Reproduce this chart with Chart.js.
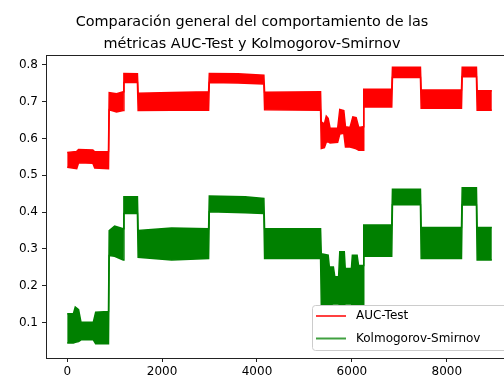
<!DOCTYPE html>
<html>
<head>
<meta charset="utf-8">
<script src="https://cdn.jsdelivr.net/npm/chart.js@4.4.0/dist/chart.umd.min.js"></script>
<style>
  html, body { margin: 0; padding: 0; background: #fff; }
  #wrap { width: 504px; height: 378px; }
</style>
</head>
<body>
<div id="wrap"><canvas id="myChart" width="504" height="378"></canvas></div>
<script>
// iteration (x) and upper / lower edge of each noisy band
var aucX  = [0, 200, 240, 540, 580, 870, 885, 1040, 1180, 1195, 1480, 1495, 2200, 2980, 2995, 3600, 4145, 4160, 5340,
             5355, 5420, 5460, 5500, 5540, 5700, 5745, 5830, 5865, 5960, 6020, 6090, 6145, 6235,
             6250, 6840, 6855, 7445, 7460, 8310, 8325, 8625, 8640, 8950];
var aucHi = [0.562, 0.565, 0.570, 0.569, 0.564, 0.565, 0.725, 0.722, 0.727, 0.777, 0.776, 0.723, 0.725, 0.727, 0.777, 0.776, 0.772, 0.726, 0.727,
             0.645, 0.640, 0.661, 0.655, 0.628, 0.628, 0.679, 0.676, 0.632, 0.630, 0.659, 0.657, 0.630, 0.632,
             0.734, 0.734, 0.794, 0.794, 0.732, 0.732, 0.794, 0.794, 0.730, 0.730];
var aucLo = [0.522, 0.518, 0.534, 0.533, 0.520, 0.518, 0.678, 0.672, 0.676, 0.752, 0.752, 0.676, 0.677, 0.677, 0.752, 0.751, 0.748, 0.678, 0.677,
             0.573, 0.575, 0.590, 0.591, 0.588, 0.590, 0.612, 0.614, 0.577, 0.577, 0.575, 0.572, 0.568, 0.568,
             0.686, 0.686, 0.766, 0.766, 0.682, 0.682, 0.768, 0.768, 0.677, 0.677];

var ksX  = [0, 130, 170, 240, 290, 550, 600, 870, 885, 1000, 1180, 1195, 1480, 1495, 2200, 2980, 2995, 3750, 4145, 4160, 5340,
            5355, 5500, 5525, 5610, 5640, 5720, 5745, 5840, 5860, 5990, 6010, 6110, 6140, 6235,
            6250, 6840, 6855, 7445, 7460, 8310, 8325, 8625, 8640, 8950];
var ksHi = [0.124, 0.124, 0.142, 0.135, 0.101, 0.101, 0.128, 0.130, 0.350, 0.362, 0.355, 0.442, 0.442, 0.350, 0.357, 0.355, 0.444, 0.442, 0.437, 0.355, 0.355,
            0.287, 0.283, 0.251, 0.251, 0.224, 0.224, 0.292, 0.292, 0.247, 0.247, 0.283, 0.283, 0.255, 0.255,
            0.365, 0.365, 0.462, 0.462, 0.358, 0.358, 0.466, 0.466, 0.358, 0.358];
var ksLo = [0.044, 0.044, 0.046, 0.048, 0.053, 0.053, 0.042, 0.042, 0.282, 0.280, 0.270, 0.396, 0.396, 0.277, 0.270, 0.274, 0.401, 0.398, 0.396, 0.274, 0.274,
            0.148, 0.148, 0.148, 0.150, 0.150, 0.150, 0.148, 0.148, 0.150, 0.150, 0.148, 0.148, 0.148, 0.148,
            0.280, 0.280, 0.420, 0.420, 0.274, 0.274, 0.419, 0.419, 0.270, 0.270];

var xTicks = [0, 2000, 4000, 6000, 8000];
var yTicks = [0.1, 0.2, 0.3, 0.4, 0.5, 0.6, 0.7, 0.8];

var titleLines = ['Comparación general del comportamiento de las', 'métricas AUC-Test y Kolmogorov-Smirnov'];
var seriesNames = ['AUC-Test', 'Kolmogorov-Smirnov'];
var seriesColors = ['#ff0000', '#008000'];
var legendColors = ['rgba(255,0,0,0.75)', 'rgba(0,128,0,0.75)'];

function pts(xs, ys) {
  var out = [];
  for (var i in xs) {
    out.push({x: xs[i], y: ys[i]});
  }
  return out;
}

function band(name, color, xs, hi, lo) {
  return [
    { label: name, data: pts(xs, hi), borderColor: color, backgroundColor: color,
      borderWidth: 1.5, pointRadius: 0, tension: 0, fill: '+1' },
    { label: '', data: pts(xs, lo), borderColor: color, backgroundColor: color,
      borderWidth: 1.5, pointRadius: 0, tension: 0, fill: false }
  ];
}

var FONT = 'DejaVu Sans';

// top spine + legend box in the lower right
var framePlugin = {
  id: 'frame',
  afterDraw: function(chart) {
    var ctx = chart.ctx;
    var a = chart.chartArea;
    ctx.save();
    ctx.strokeStyle = '#222';
    ctx.lineWidth = 1;
    ctx.beginPath();
    ctx.moveTo(a.left, a.top + 0.5);
    ctx.lineTo(a.right, a.top + 0.5);
    ctx.stroke();

    var bx = 312.5, by = 305.5, bw = 260, bh = 45;
    ctx.fillStyle = 'rgba(255,255,255,0.8)';
    ctx.strokeStyle = '#cccccc';
    ctx.beginPath();
    ctx.roundRect(bx, by, bw, bh, 3);
    ctx.fill();
    ctx.stroke();

    ctx.font = '12px "' + FONT + '"';
    ctx.textBaseline = 'middle';
    for (var i = 0; i < seriesNames.length; i++) {
      var ly = 316 + i * 22.5;
      ctx.strokeStyle = legendColors[i];
      ctx.lineWidth = 2;
      ctx.beginPath();
      ctx.moveTo(316, ly);
      ctx.lineTo(346, ly);
      ctx.stroke();
      ctx.fillStyle = '#000';
      ctx.fillText(seriesNames[i], 356, ly);
    }
    ctx.restore();
  }
};

var datasets = band(seriesNames[0], seriesColors[0], aucX, aucHi, aucLo)
  .concat(band(seriesNames[1], seriesColors[1], ksX, ksHi, ksLo));

var ctx = document.getElementById('myChart');

var lineGraph = new Chart(ctx, {
  type: 'line',
  data: { datasets: datasets },
  plugins: [framePlugin],
  options: {
    responsive: false,
    animation: false,
    layout: { padding: { left: 0, right: 0, top: 0, bottom: 0 } },
    plugins: {
      legend: { display: false },
      tooltip: { enabled: false },
      title: {
        display: true,
        text: titleLines,
        color: '#000',
        font: { family: FONT, size: 14.4, weight: 'normal', lineHeight: '22px' },
        padding: { top: 11, bottom: 0 }
      }
    },
    scales: {
      x: {
        type: 'linear',
        min: -447,
        max: 9206,
        afterFit: function(scale) { scale.height = 20; },
        afterBuildTicks: function(scale) {
          scale.ticks = xTicks.map(function(v) { return {value: v}; });
        },
        ticks: {
          color: '#000',
          font: { family: FONT, size: 12 },
          padding: 3,
          maxRotation: 0,
          autoSkip: false,
          callback: function(v) { return String(v); }
        },
        grid: { display: true, drawOnChartArea: false, drawTicks: true, tickLength: 4, color: '#222' },
        border: { display: true, color: '#222', width: 1 }
      },
      y: {
        min: 0.0035,
        max: 0.827,
        afterFit: function(scale) { scale.width = 46; },
        afterBuildTicks: function(scale) {
          scale.ticks = yTicks.map(function(v) { return {value: v}; });
        },
        ticks: {
          color: '#000',
          font: { family: FONT, size: 12 },
          padding: 4,
          autoSkip: false,
          callback: function(v) { return v.toFixed(1); }
        },
        grid: { display: true, drawOnChartArea: false, drawTicks: true, tickLength: 4, color: '#222' },
        border: { display: true, color: '#222', width: 1 }
      }
    }
  }
});
</script>
</body>
</html>
